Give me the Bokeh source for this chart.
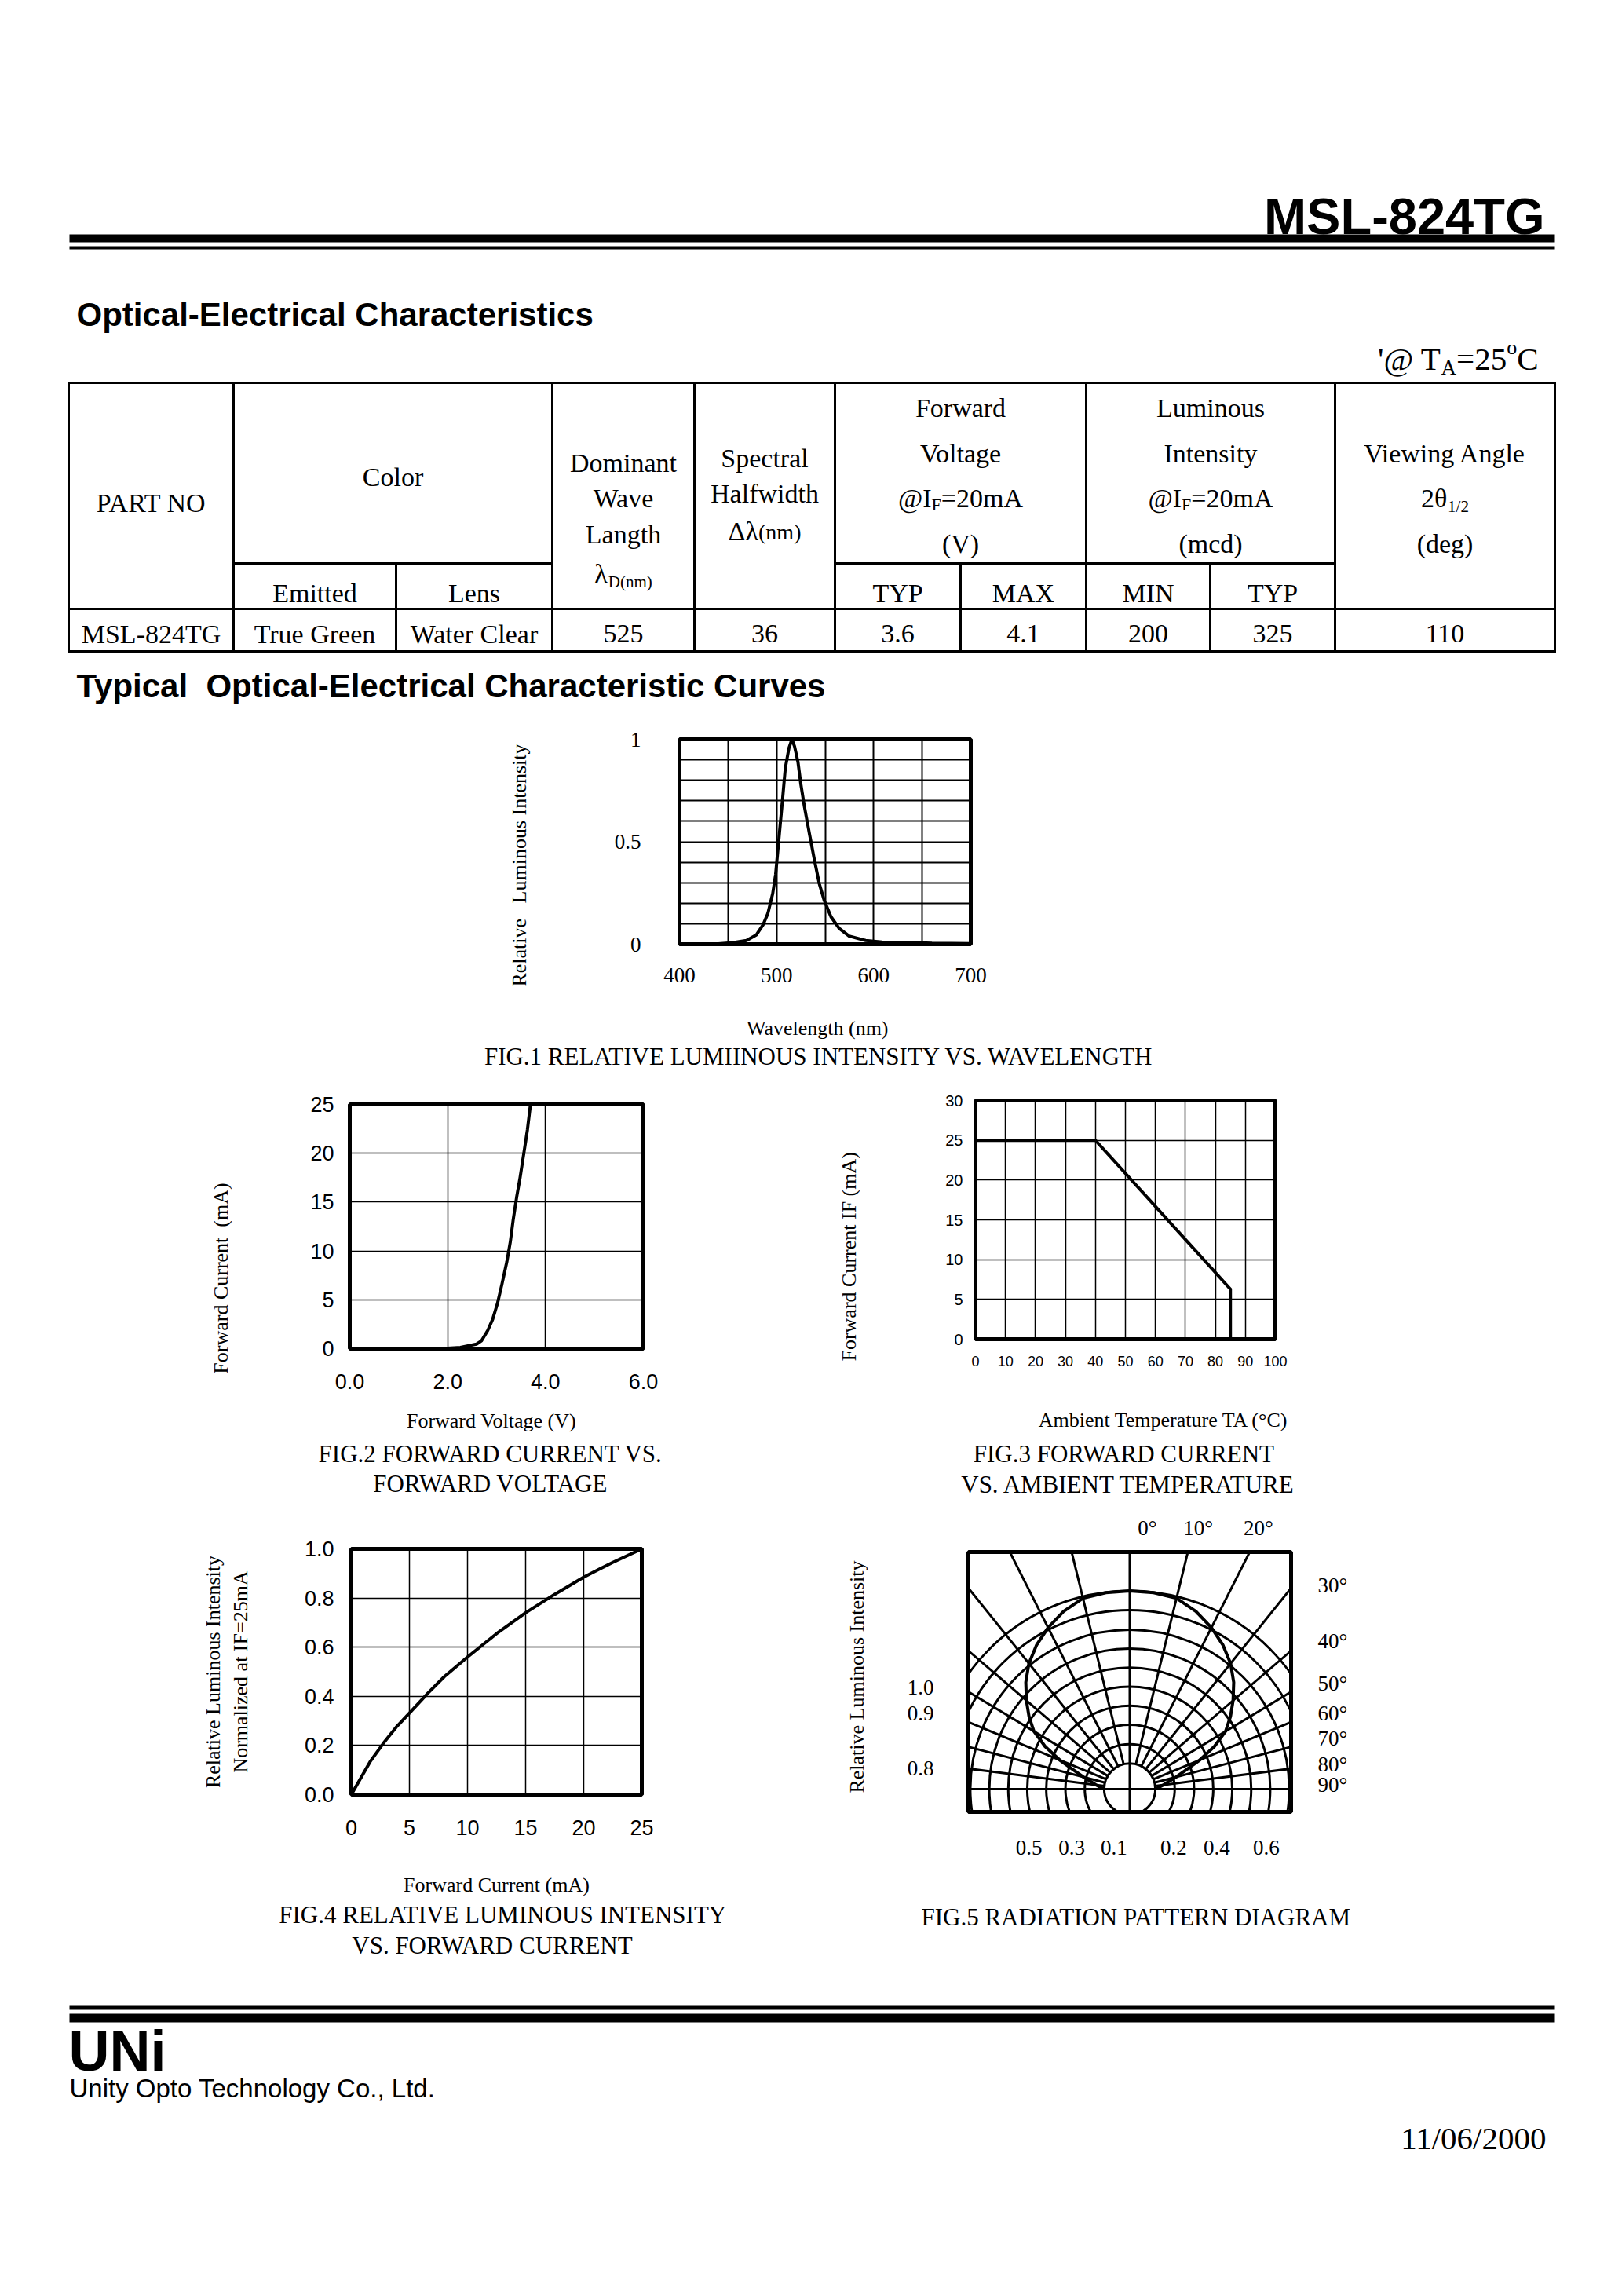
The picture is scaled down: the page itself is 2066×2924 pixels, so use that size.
import math
from bokeh.plotting import figure
from bokeh.models import Range1d, FixedTicker, Label, LinearAxis, Spacer, Title
from bokeh.layouts import column, row
from bokeh.embed import file_html
from bokeh.resources import INLINE

SERIF = "Liberation Serif"
SANS = "Liberation Sans"
NB = "\u00a0"

# ----------------------------- data -----------------------------
part_number = "MSL-824TG"
table_sub_labels = ["Emitted", "Lens", "TYP", "MAX", "MIN", "TYP"]
table_values = ["MSL-824TG", "True Green", "Water Clear", "525", "36", "3.6", "4.1", "200", "325", "110"]

# FIG.1 relative luminous intensity vs wavelength
fig1_wavelength = [400, 440, 455, 469, 479, 486, 491, 496, 499, 502.5, 506, 509, 512.7, 515.8,
                   518.5, 522, 525, 528.7, 533.8, 539, 544, 549, 556, 564.5, 574.7, 591.7,
                   608.7, 642.8, 660, 700]
fig1_intensity = [0.0, 0.002, 0.008, 0.018, 0.045, 0.094, 0.15, 0.247, 0.34, 0.52, 0.70, 0.86,
                  0.956, 1.0, 0.965, 0.89, 0.78, 0.67, 0.54, 0.41, 0.295, 0.215, 0.134, 0.077,
                  0.04, 0.018, 0.011, 0.008, 0.005, 0.003]
fig1_xticks = [400, 500, 600, 700]
fig1_yticks = [0, 0.5, 1]

# FIG.2 forward current vs forward voltage
fig2_voltage = [2.0, 2.26, 2.59, 2.69, 2.82, 2.92, 3.02, 3.11, 3.21, 3.28, 3.34, 3.41, 3.48,
                3.56, 3.63, 3.70]
fig2_current = [0.05, 0.13, 0.46, 0.79, 1.87, 3.0, 4.66, 6.6, 8.9, 10.9, 13.2, 15.5, 17.5,
                20.1, 22.4, 25.3]
fig2_xticks = [0, 2, 4, 6]
fig2_yticks = [0, 5, 10, 15, 20, 25]

# FIG.3 forward current vs ambient temperature (derating)
fig3_temperature = [0, 40, 85, 85]
fig3_current = [25, 25, 6.3, 0]
fig3_xticks = [0, 10, 20, 30, 40, 50, 60, 70, 80, 90, 100]
fig3_yticks = [0, 5, 10, 15, 20, 25, 30]

# FIG.4 relative luminous intensity vs forward current
fig4_current = [0, 1.66, 2.76, 3.87, 4.97, 6.63, 8.0, 10.0, 12.5, 15.0, 17.5, 20.0, 22.5, 25]
fig4_relative = [0, 0.137, 0.209, 0.275, 0.330, 0.415, 0.48, 0.56, 0.655, 0.74, 0.815, 0.885,
                 0.945, 1.0]
fig4_xticks = [0, 5, 10, 15, 20, 25]
fig4_yticks = [0, 0.2, 0.4, 0.6, 0.8, 1.0]

# FIG.5 radiation pattern (angle from axis in degrees, relative intensity)
fig5_angle = [0, 5, 10, 15, 20, 25, 30, 35, 40, 45, 50, 55, 60, 65, 70, 75, 80, 85, 90]
fig5_relative = [1.0, 0.998, 0.99, 0.95, 0.90, 0.845, 0.785, 0.715, 0.64, 0.57, 0.50, 0.40,
                 0.29, 0.19, 0.13, 0.08, 0.05, 0.02, 0.0]
fig5_grid_angles = [10, 20, 30, 40, 50, 60, 70, 80]
fig5_grid_radii = [1.35, 2.37, 3.39, 4.4, 5.4, 6.4, 7.4, 8.4, 9.43, 10.45]
fig5_bottom_labels = ["0.5", "0.3", "0.1", "0.2", "0.4", "0.6"]
fig5_left_labels = ["1.0", "0.9", "0.8"]
fig5_right_labels = ["30°", "40°", "50°", "60°", "70°", "80°", "90°"]
fig5_top_labels = ["0°", "10°", "20°"]

# ----------------------------- helpers -----------------------------
_W = {' ': 250, NB: 250, "'": 180, '@': 921, '(': 333, ')': 333, '.': 250, ',': 250, '/': 278,
      '=': 564, '-': 333, '°': 400, 'λ': 520, 'θ': 500, 'Δ': 612}
_W.update(dict(zip("ABCDEFGHIJKLMNOPQRSTUVWXYZ",
                   [722, 667, 667, 722, 611, 556, 722, 722, 333, 389, 722, 611, 889, 722, 722,
                    556, 722, 667, 556, 611, 722, 722, 944, 722, 722, 611])))
_W.update(dict(zip("abcdefghijklmnopqrstuvwxyz",
                   [444, 500, 444, 500, 444, 333, 500, 500, 278, 278, 500, 278, 778, 500, 500,
                    500, 500, 333, 389, 278, 500, 500, 722, 500, 500, 444])))


def tw(s, size):
    return sum(_W.get(c, 500) for c in s) / 1000.0 * size


def add_text(p, x, base, segs, align="left", font=SERIF, style="normal"):
    """Page-coordinate text; base = baseline (page px). segs = [(text, size, shift_down)]."""
    widths = [tw(t, s) for t, s, _ in segs]
    total = sum(widths)
    if len(segs) == 1:
        offs, aligns = [0.0], [align]
    else:
        start = {"left": 0.0, "center": -total / 2.0, "right": -total}[align]
        offs, aligns, acc = [], [], start
        for w in widths:
            offs.append(acc)
            aligns.append("left")
            acc += w
    for (t, s, sh), o, al in zip(segs, offs, aligns):
        # the renderer draws 'alphabetic' text one descent lower: compensate
        p.add_layout(Label(x=x + o, y=base + sh - 0.216 * s, text=t, text_align=al,
                           text_baseline="alphabetic", text_font=font,
                           text_font_size=f"{s}px", text_font_style=style, text_color="black"))


def style_axis(ax, font, size, standoff):
    ax.axis_line_color = None
    ax.major_tick_line_color = None
    ax.minor_tick_line_color = None
    ax.major_tick_out = 0
    ax.major_tick_in = 0
    ax.minor_tick_out = 0
    ax.minor_tick_in = 0
    ax.major_label_text_font = font
    ax.major_label_text_font_size = f"{size}px"
    ax.major_label_text_color = "black"
    ax.major_label_standoff = standoff


def axis_title(ax, text, standoff, size=26):
    ax.axis_label = text
    ax.axis_label_text_font = SERIF
    ax.axis_label_text_font_size = f"{size}px"
    ax.axis_label_text_font_style = "normal"
    ax.axis_label_text_color = "black"
    ax.axis_label_standoff = standoff


def caption(p, text, standoff, side="below", size=31, va="top"):
    p.add_layout(Title(text=text, align="center", vertical_align=va, standoff=standoff,
                       text_font=SERIF, text_font_size=f"{size}px", text_font_style="normal",
                       text_color="black", text_line_height=1.1), side)


def left_title(p, text, centre_y, frame_bottom, standoff, size=26):
    off = frame_bottom - (centre_y + tw(text, size) / 2.0)
    p.add_layout(Title(text=text, align="left", vertical_align="bottom", offset=off,
                       standoff=standoff, text_font=SERIF, text_font_size=f"{size}px",
                       text_font_style="normal", text_color="black"), "left")


def make_chart(rect, left, top, right, bottom, xr, yr):
    fl, ft, fw, fh = rect
    p = figure(frame_width=fw, frame_height=fh,
               min_border_left=fl - left, min_border_top=ft - top,
               min_border_right=right - (fl + fw), min_border_bottom=bottom - (ft + fh),
               x_range=Range1d(*xr), y_range=Range1d(*yr),
               output_backend="svg", toolbar_location=None)
    p.outline_line_color = "black"
    p.outline_line_width = 5
    p.outline_line_alpha = 1.0
    p.background_fill_color = "white"
    p.border_fill_color = "white"
    p.grid.grid_line_color = "black"
    p.grid.grid_line_alpha = 1.0
    return p


def page_fig(width, y0, y1, dx=0, dy=0):
    # data coordinates are page pixels, drawn shifted by (dx, dy)
    p = figure(frame_width=width, frame_height=y1 - y0, min_border=0,
               x_range=Range1d(8 - dx, 8 + width - dx), y_range=Range1d(y1 - dy, y0 - dy),
               x_axis_location=None, y_axis_location=None,
               output_backend="svg", toolbar_location=None)
    p.outline_line_color = None
    p.grid.visible = False
    p.background_fill_color = "white"
    p.border_fill_color = "white"
    return p


# ----------------------------- header -----------------------------
hdr = page_fig(2050, 8, 935, dx=9)
RULE_L, RULE_R = 87, 1979

add_text(hdr, 1966, 297, [(part_number, 65, 0)], align="right", font=SANS, style="bold")
hdr.quad(left=[RULE_L, RULE_L], right=[RULE_R, RULE_R], top=[306, 321], bottom=[316, 325],
         fill_color="black", line_color=None)
add_text(hdr, 96, 417, [("Optical-Electrical Characteristics", 42, 0)], font=SANS, style="bold")
add_text(hdr, 1958, 473, [("'@ T", 41, 0), ("A", 27, 8), ("=25", 41, 0), ("o", 26, -17), ("C", 41, 0)],
         align="right")

TD = 5   # table vertical placement
T_TOP, T_SUB, T_DATA, T_BOT = 490 + TD, 720 + TD, 778 + TD, 832 + TD
full_cols = [86, 296, 702, 883, 1062, 1382, 1699, 1979]
sub_cols = [503, 1222, 1540]
x0s, y0s, x1s, y1s = [], [], [], []
for c in full_cols:
    x0s += [c]; y0s += [T_TOP]; x1s += [c]; y1s += [T_BOT]
for c in sub_cols:
    x0s += [c]; y0s += [T_SUB]; x1s += [c]; y1s += [T_BOT]
for yy in (T_TOP, T_DATA, T_BOT):
    x0s += [86]; y0s += [yy]; x1s += [1979]; y1s += [yy]
for (a, b) in [(296, 702), (1062, 1699)]:
    x0s += [a]; y0s += [T_SUB]; x1s += [b]; y1s += [T_SUB]
hdr.segment(x0=x0s, y0=y0s, x1=x1s, y1=y1s, line_color="black", line_width=3, line_cap="square")

TS = 34
add_text(hdr, 191, 650 + TD, [("PART NO", TS, 0)], align="center")
add_text(hdr, 499, 617 + TD, [("Color", TS, 0)], align="center")
for yb, t in zip([599, 644, 690], ["Dominant", "Wave", "Langth"]):
    add_text(hdr, 792.5, yb + TD, [(t, TS, 0)], align="center")
add_text(hdr, 792.5, 740 + TD, [("λ", TS, 0), ("D(nm)", 21, 8)], align="center")
for yb, t in zip([593, 638], ["Spectral", "Halfwidth"]):
    add_text(hdr, 972.5, yb + TD, [(t, TS, 0)], align="center")
add_text(hdr, 972.5, 686 + TD, [("Δλ", TS, 0), ("(nm)", 28, 0)], align="center")
for cx, w1, w2, unit in [(1222, "Forward", "Voltage", "(V)"), (1540.5, "Luminous", "Intensity", "(mcd)")]:
    add_text(hdr, cx, 529 + TD, [(w1, TS, 0)], align="center")
    add_text(hdr, cx, 587 + TD, [(w2, TS, 0)], align="center")
    add_text(hdr, cx, 644 + TD, [("@I", TS, 0), ("F", 22, 6), ("=20mA", TS, 0)], align="center")
    add_text(hdr, cx, 702 + TD, [(unit, TS, 0)], align="center")
add_text(hdr, 1839, 587 + TD, [("Viewing Angle", TS, 0)], align="center")
add_text(hdr, 1839, 644 + TD, [("2θ", TS, 0), ("1/2", 21, 8)], align="center")
add_text(hdr, 1839, 702 + TD, [("(deg)", TS, 0)], align="center")

sub_edges = [(296, 503), (503, 702), (1062, 1222), (1222, 1382), (1382, 1540), (1540, 1699)]
for (a, b), t in zip(sub_edges, table_sub_labels):
    add_text(hdr, (a + b) / 2, 765 + TD, [(t, TS, 0)], align="center")
cell_edges = [86, 296, 503, 702, 883, 1062, 1222, 1382, 1540, 1699, 1979]
for i, t in enumerate(table_values):
    add_text(hdr, (cell_edges[i] + cell_edges[i + 1]) / 2, 817 + TD, [(t, TS, 0)], align="center")

add_text(hdr, 96, 890, [("Typical" + NB + " Optical-Electrical Characteristic Curves", 42, 0)],
         font=SANS, style="bold")

# ----------------------------- FIG.1 -----------------------------
R1 = (873, 949, 371, 261)
f1 = make_chart(R1, 543, 935, 1544, 1390, (400, 700), (0, 1))
f1.xaxis.ticker = FixedTicker(ticks=fig1_xticks)
f1.yaxis.ticker = FixedTicker(ticks=fig1_yticks)
f1.yaxis.major_label_overrides = {0: "0", 0.5: "0.5", 1: "1"}
style_axis(f1.xaxis[0], SERIF, 27, 30)
style_axis(f1.yaxis[0], SERIF, 27, 49)
axis_title(f1.xaxis[0], "Wavelength (nm)" + NB * 3, 41)
left_title(f1, "Relative" + NB * 3 + "Luminous Intensity", 1109.5, R1[1] + R1[3], 207)
f1.xgrid.ticker = FixedTicker(ticks=[450, 500, 550, 600, 650])
f1.ygrid.ticker = FixedTicker(ticks=[0.1, 0.2, 0.3, 0.4, 0.5, 0.6, 0.7, 0.8, 0.9])
f1.grid.grid_line_width = 2
f1.line(fig1_wavelength, fig1_intensity, line_color="black", line_width=4, line_join="round")
caption(f1, "FIG.1 RELATIVE LUMIINOUS INTENSITY VS. WAVELENGTH" + NB * 2, 3)

# ----------------------------- FIG.2 -----------------------------
R2 = (453, 1414, 374, 311)
f2 = make_chart(R2, 173, 1390, 964, 1935, (0, 6), (0, 25))
f2.xaxis.ticker = FixedTicker(ticks=fig2_xticks)
f2.xaxis.major_label_overrides = {0: "0.0", 2: "2.0", 4: "4.0", 6: "6.0"}
f2.yaxis.ticker = FixedTicker(ticks=fig2_yticks)
style_axis(f2.xaxis[0], SANS, 27, 32)
style_axis(f2.yaxis[0], SANS, 27, 20)
axis_title(f2.xaxis[0], "Forward Voltage (V)" + NB * 2, 23)
left_title(f2, "Forward Current" + NB + " (mA)", 1635.5, R2[1] + R2[3], 193)
f2.xgrid.ticker = FixedTicker(ticks=fig2_xticks)
f2.ygrid.ticker = FixedTicker(ticks=fig2_yticks)
f2.grid.grid_line_width = 1.5
f2.line(fig2_voltage, fig2_current, line_color="black", line_width=4, line_join="round")
caption(f2, "FIG.2 FORWARD CURRENT VS." + NB * 2 + "\n" + NB * 9 + "FORWARD VOLTAGE", 14)

# ----------------------------- FIG.3 -----------------------------
R3 = (1250, 1409, 382, 304)
f3 = make_chart(R3, 964, 1390, 1832, 1935, (0, 100), (0, 30))
f3.xaxis.ticker = FixedTicker(ticks=fig3_xticks)
f3.yaxis.ticker = FixedTicker(ticks=fig3_yticks)
style_axis(f3.xaxis[0], SANS, 18, 21)
style_axis(f3.yaxis[0], SANS, 20, 16)
axis_title(f3.xaxis[0], NB * 15 + "Ambient Temperature TA (°C)", 51)
left_title(f3, "Forward Current IF (mA)", 1607.8, R3[1] + R3[3], 212)
f3.xgrid.ticker = FixedTicker(ticks=fig3_xticks)
f3.ygrid.ticker = FixedTicker(ticks=fig3_yticks)
f3.grid.grid_line_width = 1.5
f3.line(fig3_temperature, fig3_current, line_color="black", line_width=4, line_join="miter")
caption(f3, NB * 3 + "FIG.3 FORWARD CURRENT\n" + NB + "VS. AMBIENT TEMPERATURE", 17)

# ----------------------------- FIG.4 -----------------------------
R4 = (455, 1980, 370, 313)
f4 = make_chart(R4, 237, 1935, 1047, 2540, (0, 25), (0, 1))
f4.xaxis.ticker = FixedTicker(ticks=fig4_xticks)
f4.yaxis.ticker = FixedTicker(ticks=fig4_yticks)
f4.yaxis.major_label_overrides = {0: "0.0", 0.2: "0.2", 0.4: "0.4", 0.6: "0.6", 0.8: "0.8", 1.0: "1.0"}
style_axis(f4.xaxis[0], SANS, 27, 32)
style_axis(f4.yaxis[0], SANS, 27, 22)
axis_title(f4.xaxis[0], "Forward Current (mA)", 46)
axis_title(f4.yaxis[0], "Normalized at IF=25mA", 64)
caption(f4, "Relative Luminous Intensity", 6, side="left", size=26, va="bottom")
f4.xgrid.ticker = FixedTicker(ticks=fig4_xticks)
f4.ygrid.ticker = FixedTicker(ticks=fig4_yticks)
f4.grid.grid_line_width = 1.5
f4.line(fig4_current, fig4_relative, line_color="black", line_width=4, line_join="round")
caption(f4, NB * 2 + "FIG.4 RELATIVE LUMINOUS INTENSITY\n" + NB * 14 + "VS. FORWARD CURRENT", 7)

# ----------------------------- FIG.5 -----------------------------
R5 = (1241, 1984, 411, 331)
X5, Y5 = (-8.5, 8.5), (-1.2, 12.5)
f5 = make_chart(R5, 1047, 1935, 1902, 2540, X5, Y5)
f5.grid.visible = False
SQ = 0.72            # vertical squash of the angular grid in the original drawing
R0, RMAX = 1.35, 10.45

bottom_pos = [-5.31, -3.06, -0.83, 2.31, 4.59, 7.19]
left_pos = [5.37, 3.98, 1.11]
right_pos = [10.74, 7.81, 5.56, 3.98, 2.69, 1.3, 0.22]
top_pos = [0.93, 3.6, 6.78]
f5.xaxis.ticker = FixedTicker(ticks=bottom_pos)
f5.xaxis.major_label_overrides = dict(zip(bottom_pos, fig5_bottom_labels))
f5.yaxis.ticker = FixedTicker(ticks=left_pos)
f5.yaxis.major_label_overrides = dict(zip(left_pos, fig5_left_labels))
style_axis(f5.xaxis[0], SERIF, 27, 36)
style_axis(f5.yaxis[0], SERIF, 27, 44)
axis_title(f5.yaxis[0], NB * 2 + "Relative Luminous Intensity", 47)
ax_top = LinearAxis(ticker=FixedTicker(ticks=top_pos), major_label_overrides=dict(zip(top_pos, fig5_top_labels)))
ax_right = LinearAxis(ticker=FixedTicker(ticks=right_pos),
                      major_label_overrides=dict(zip(right_pos, fig5_right_labels)))
style_axis(ax_top, SERIF, 27, 16)
style_axis(ax_right, SERIF, 27, 34)
f5.add_layout(ax_top, "above")
f5.add_layout(ax_right, "right")

f5.circle(x=[0] * len(fig5_grid_radii), y=[0] * len(fig5_grid_radii), radius=fig5_grid_radii,
          fill_color=None, line_color="black", line_width=3)
sx0, sy0, sx1, sy1 = [0, -30], [-5, 0], [0, 30], [30, 0]
for a in fig5_grid_angles:
    th = math.radians(a)
    for sg in (-1, 1):
        dx, dy = sg * math.sin(th), SQ * math.cos(th)
        n = math.hypot(dx, dy)
        ux, uy = dx / n, dy / n
        sx0.append(R0 * ux); sy0.append(R0 * uy)
        sx1.append(40 * ux); sy1.append(40 * uy)
f5.segment(x0=sx0, y0=sy0, x1=sx1, y1=sy1, line_color="black", line_width=3)

pat_angle = [-a for a in fig5_angle[::-1]] + fig5_angle[1:]
pat_rel = fig5_relative[::-1] + fig5_relative[1:]
px, py = [], []
for a, rv in zip(pat_angle, pat_rel):
    th = math.radians(abs(a))
    thi = math.atan2(math.sin(th), SQ * math.cos(th))
    rr = R0 + rv * (RMAX - R0)
    px.append((1 if a >= 0 else -1) * rr * math.sin(thi))
    py.append(rr * math.cos(thi))
f5.line(px, py, line_color="black", line_width=4, line_join="round")
caption(f5, NB * 2 + "FIG.5 RADIATION PATTERN DIAGRAM", 118)

# ----------------------------- footer -----------------------------
ftr = page_fig(2050, 2540, 2905, dx=9, dy=12)
ftr.quad(left=[RULE_L, RULE_L], right=[RULE_R, RULE_R], top=[2550, 2560], bottom=[2555, 2571],
         fill_color="black", line_color=None)
add_text(ftr, 86, 2623, [("UNi", 72, 0)], font=SANS, style="bold")
add_text(ftr, 87, 2662, [("Unity Opto Technology Co., Ltd.", 33, 0)], font=SANS)
add_text(ftr, 1968, 2727, [("11/06/2000", 41, 0)], align="right")

# ----------------------------- layout -----------------------------
# each chart wrapped in its own column so that frames are not top-aligned across a row
rowB = row(Spacer(width=535, height=455), column(f1, spacing=0), spacing=0)
rowC = row(Spacer(width=165, height=545), column(f2, spacing=0), column(f3, spacing=0), spacing=0)
rowD = row(Spacer(width=229, height=605), column(f4, spacing=0), column(f5, spacing=0), spacing=0)
page = column(hdr, rowB, rowC, rowD, ftr, spacing=0)

open("out.html", "w").write(file_html(page, INLINE, title="MSL-824TG"))
